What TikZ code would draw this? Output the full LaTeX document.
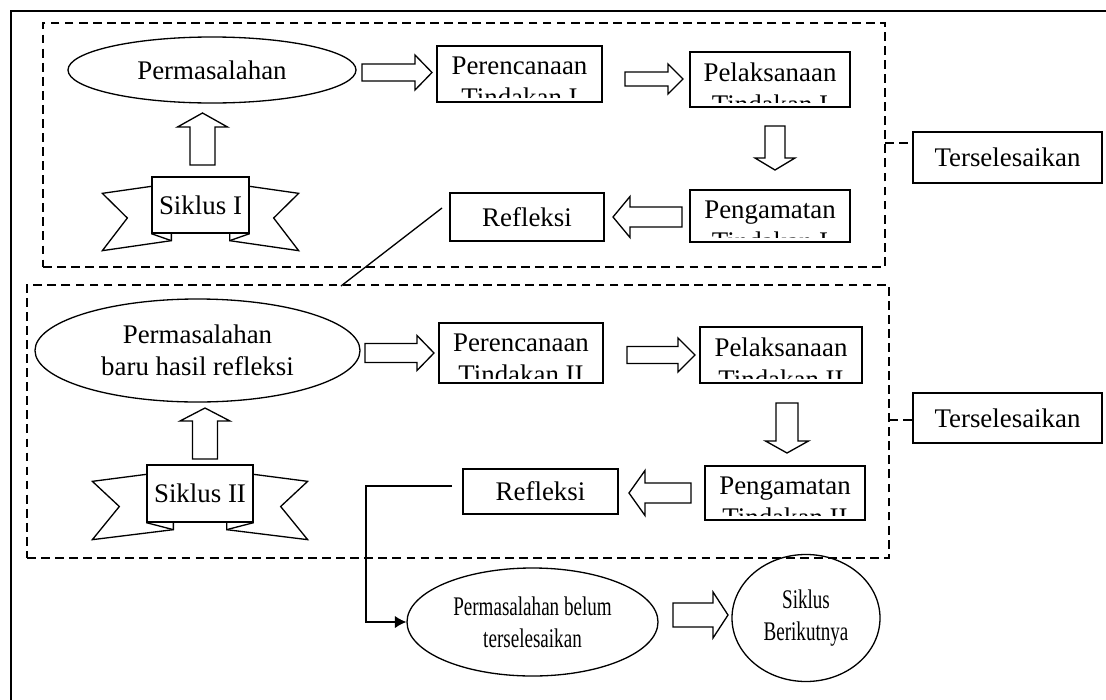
\documentclass[tikz,border=0pt]{standalone}
\usepackage{graphicx}
\usepackage{fontspec}
\setmainfont{Liberation Serif}
\usetikzlibrary{arrows.meta,shapes.geometric}

\tikzset{
  boxsize/.style 2 args={minimum width=#1*0.02cm, minimum height=#2*0.02cm},
  stepbox/.style={draw, rectangle, inner sep=0pt, fill=white},
  boxtext/.style={anchor=north, align=center, inner sep=0pt},
  oval/.style={draw, ellipse, align=center, inner sep=0pt},
  groupbox/.style={draw, dash pattern=on 5pt off 3pt, inner sep=0pt},
  dashline/.style={dash pattern=on 5pt off 3pt},
}

% condensed line of text
\newcommand{\narrow}[1]{\scalebox{0.71}[1]{#1}}

% box whose second line is cut off at the bottom
\newcommand{\cutbox}[5]{%
  \node[stepbox, boxsize={#3}{#4}] (#1) at #2 {};
  \begin{scope}
    \clip ([shift={(0,-5)}]#1.south west) rectangle (#1.north east);
    \node[boxtext] at ([shift={(0,11)}]#1.north) {#5};
  \end{scope}}

% ribbon ends round a banner node
\newcommand{\ribbontails}[4]{%
  \draw ([shift={(0,10)}]#1.north west) -- ([shift={(-#2,17)}]#1.north west)
    -- ([shift={(-#2+#3,13)}]#1.west) -- ([shift={(-#2,17)}]#1.south west)
    -- ([shift={(#4,7)}]#1.south west) -- ([shift={(#4,0)}]#1.south west);
  \draw (#1.south west) -- ([shift={(#4,7)}]#1.south west);
  \draw ([shift={(0,10)}]#1.north east) -- ([shift={(#2,17)}]#1.north east)
    -- ([shift={(#2-#3,13)}]#1.east) -- ([shift={(#2,17)}]#1.south east)
    -- ([shift={(-#4,7)}]#1.south east) -- ([shift={(-#4,0)}]#1.south east);
  \draw (#1.south east) -- ([shift={(-#4,7)}]#1.south east);}

% outline block arrow: tail, angle, length, shaft half, head half, head length
\newcommand{\blockarrow}[6]{%
  \draw[shift={#1}, rotate=#2] (0,-#4) -- ({#3-#6},-#4) -- ({#3-#6},-#5) -- (#3,0)
    -- ({#3-#6},#5) -- ({#3-#6},#4) -- (0,#4) -- cycle;}

\begin{document}
\begin{tikzpicture}[x=0.02cm, y=-0.02cm, line width=0.75pt,
    >={Latex[length=6.5pt,width=7pt]},
    font=\fontsize{15.3pt}{18pt}\selectfont]
  \useasboundingbox (0,0) rectangle (1106,700);
  \draw (11,11) rectangle (1120,715);

  % groups
  \node[groupbox, boxsize={842}{244}] (grp1) at (464,145) {};
  \node[groupbox, boxsize={862}{273}] (grp2) at (458,421.5) {};

  % siklus I
  \node[oval, boxsize={288}{66}] (mas1) at (212,70) {Permasalahan};
  \cutbox{per1}{(519.5,74)}{165}{56}{Perencanaan\\Tindakan I}
  \cutbox{pel1}{(770,79.5)}{160}{55}{Pelaksanaan\\Tindakan I}
  \cutbox{pen1}{(770,216)}{160}{52}{Pengamatan\\Tindakan I}
  \node[stepbox, boxsize={154}{48}] (ref1) at (527,217) {Refleksi};
  \node[stepbox, boxsize={97}{56}] (sik1) at (200.5,205) {Siklus I};
  \ribbontails{sik1}{49}{25}{20}

  \blockarrow{(362,72.5)}{0}{70}{8.5}{17.5}{17}
  \blockarrow{(625,79)}{0}{58}{7}{15}{15}
  \blockarrow{(775,126)}{-90}{44}{10}{20}{12}
  \blockarrow{(682,217)}{180}{69}{10}{20.5}{17}
  \blockarrow{(202.5,165)}{90}{52}{12.5}{25}{14}

  % siklus II
  \node[oval, boxsize={325}{103}] (mas2) at (197.5,350.5) {Permasalahan\\baru hasil refleksi};
  \cutbox{per2}{(521,353)}{164}{60}{Perencanaan\\Tindakan II}
  \cutbox{pel2}{(781,355)}{162}{56}{Pelaksanaan\\Tindakan II}
  \cutbox{pen2}{(785,493)}{160}{54}{Pengamatan\\Tindakan II}
  \node[stepbox, boxsize={155}{45}] (ref2) at (540.5,491.5) {Refleksi};
  \node[stepbox, boxsize={106}{57}] (sik2) at (200,493.5) {Siklus II};
  \ribbontails{sik2}{54}{27}{27}

  \blockarrow{(365,353)}{0}{69}{9.5}{17.5}{17}
  \blockarrow{(627,355)}{0}{68}{8.5}{17}{17}
  \blockarrow{(787,403)}{-90}{50}{11}{21.5}{12}
  \blockarrow{(691,493)}{180}{62}{10}{22.5}{16}
  \blockarrow{(205,459)}{90}{51}{12.5}{25}{13}

  % after siklus II
  \node[oval, boxsize={251}{108}] (belum) at (532.5,622)
    {\narrow{Permasalahan belum}\\\narrow{terselesaikan}};
  \node[oval, boxsize={148}{127}] (next) at (806,618)
    {\narrow{Siklus}\\\narrow{Berikutnya}};
  \blockarrow{(673,615)}{0}{55}{12}{23}{15}

  % solved
  \node[stepbox, boxsize={189}{51}] (ters1) at (1007.5,157.5) {Terselesaikan};
  \node[stepbox, boxsize={189}{50}] (ters2) at (1007.5,418) {Terselesaikan};
  \coordinate (t1) at (885,143);
  \coordinate (t2) at (889,420);
  \draw[dashline] (t1) -- (t1 -| ters1.west);
  \draw[dashline] (t2) -- (t2 -| ters2.west);

  % links
  \coordinate (c1) at (442,208);
  \coordinate (c2) at (341,286);
  \draw (c1) -- (c2);
  \coordinate (c3) at (452,486);
  \coordinate (c4) at (366,486);
  \draw[->] (c3) -- (c4) |- (belum.west);
\end{tikzpicture}
\end{document}
